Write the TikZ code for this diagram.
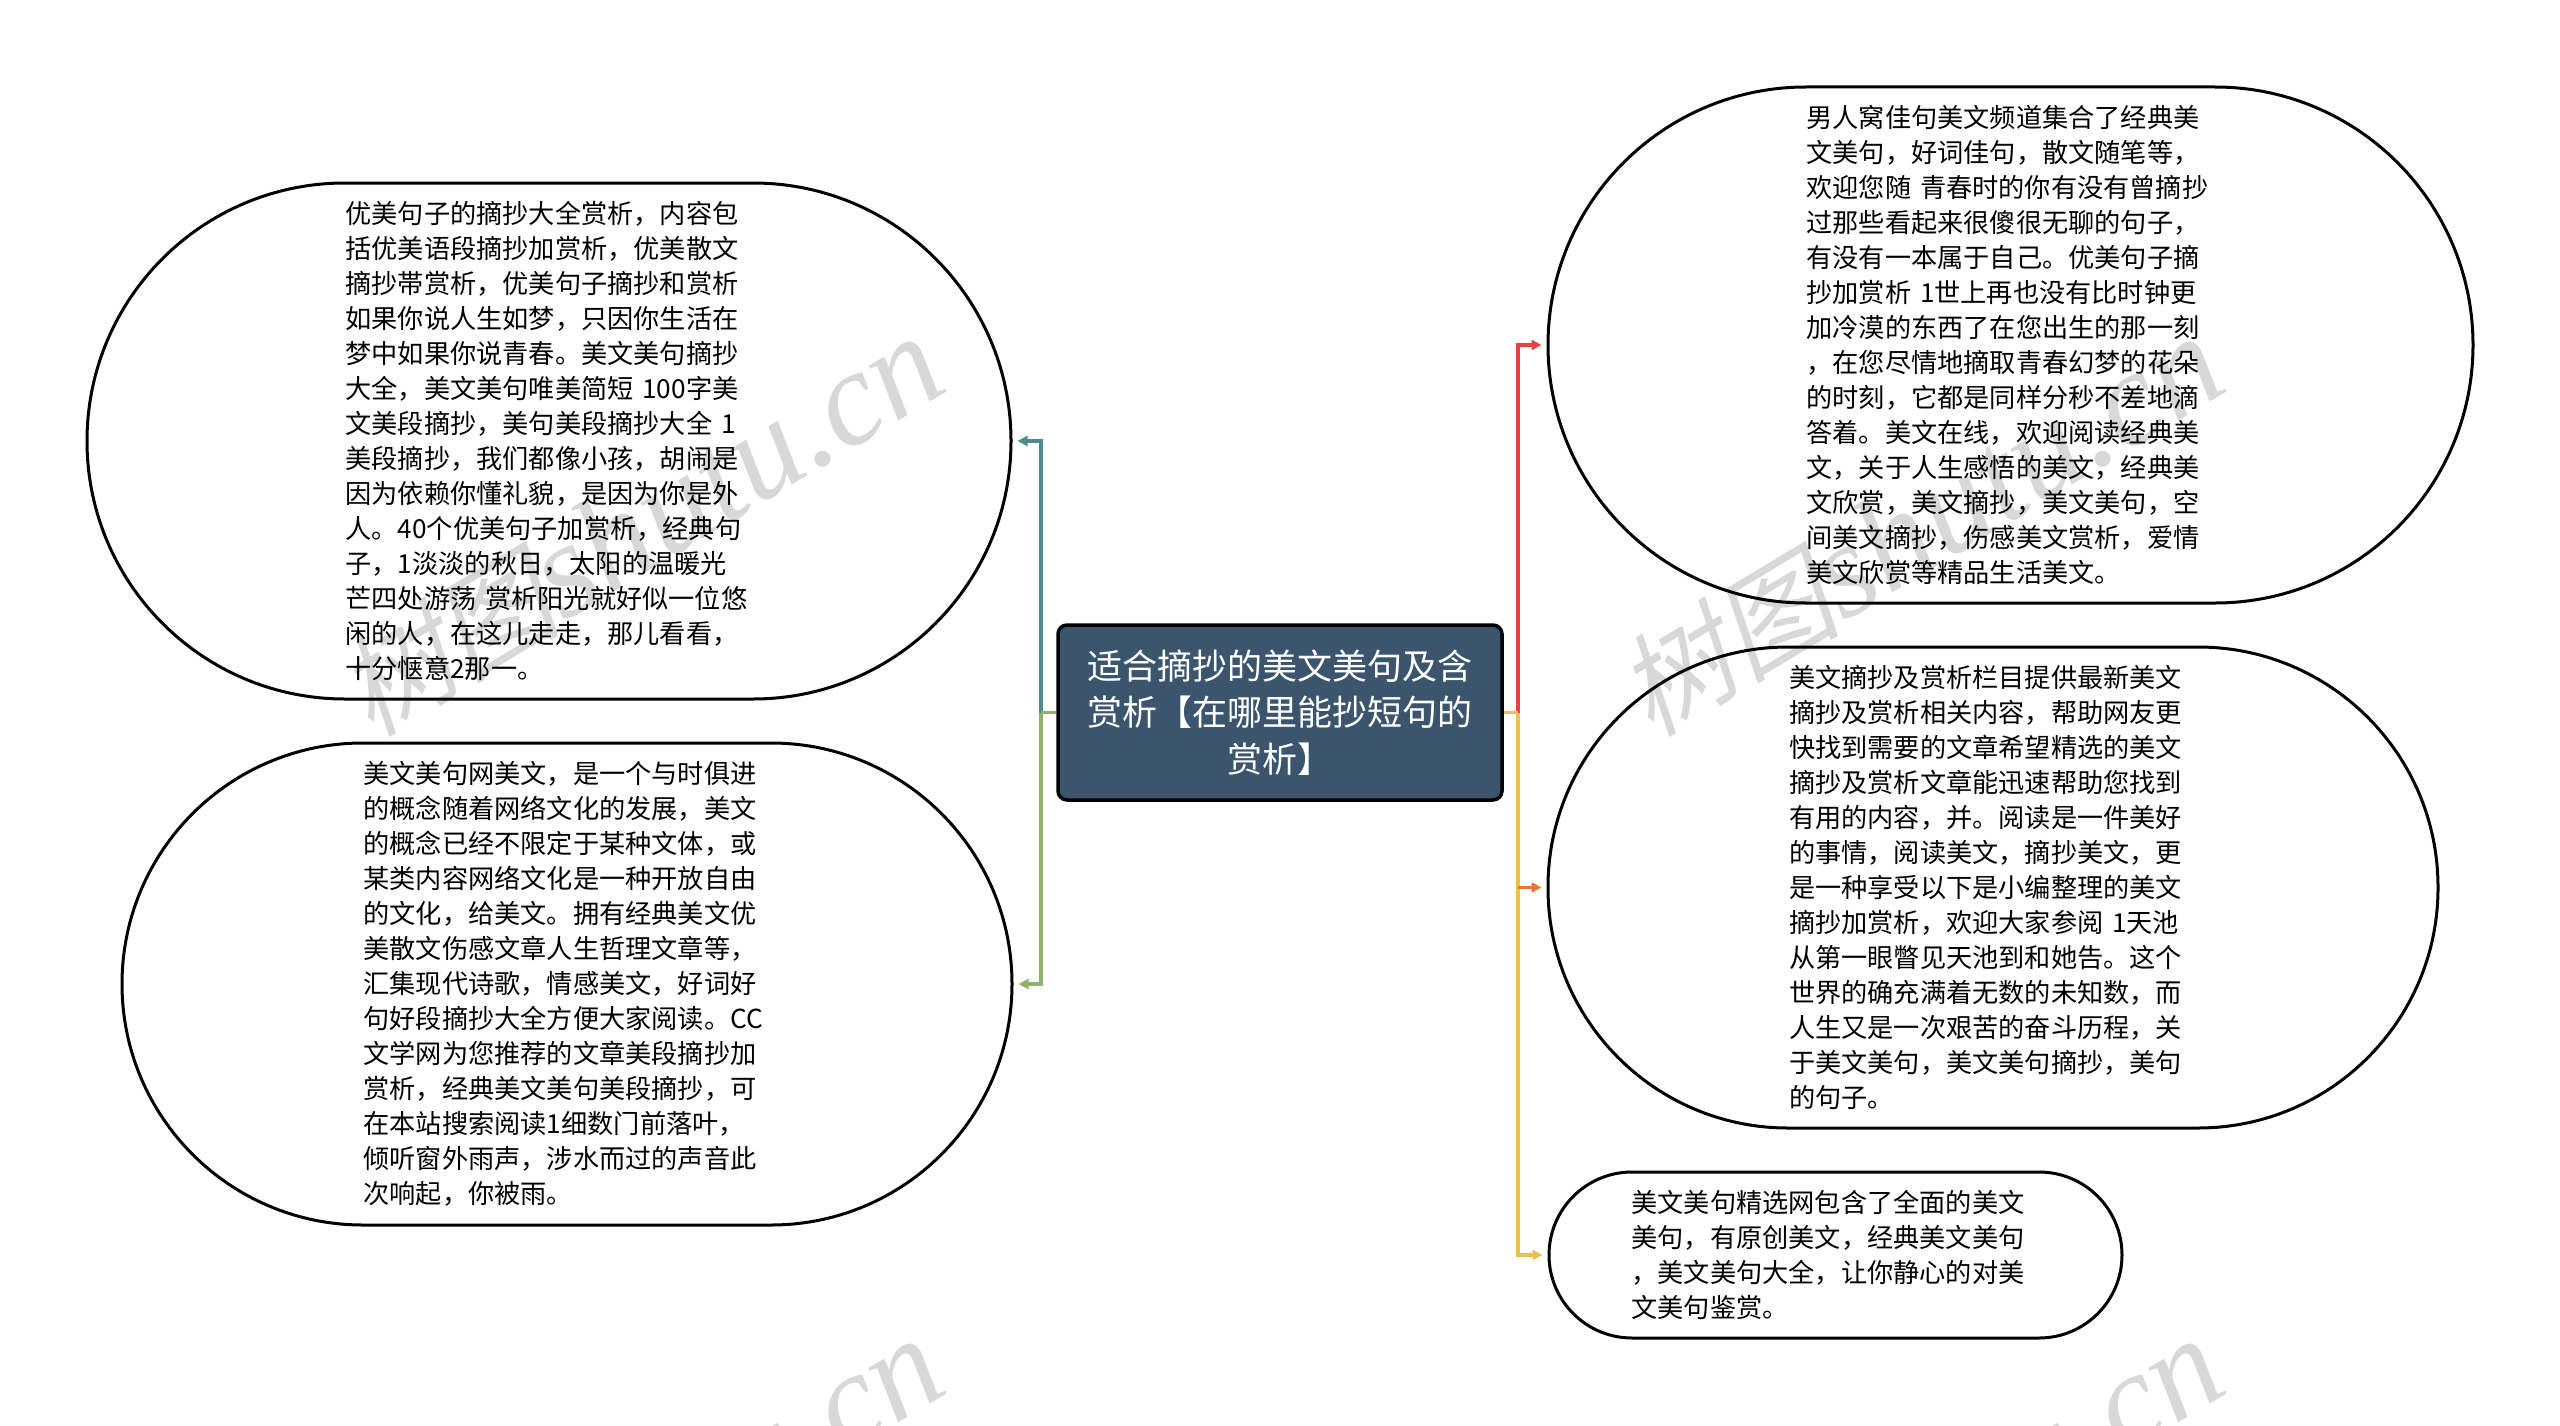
\documentclass[tikz,border=0pt]{standalone}
\usepackage{fontspec}
\setmainfont{Noto Sans CJK SC}
\newfontfamily\wmlatin{Liberation Serif}
\newfontfamily\wmcjk[FakeSlant=0.22]{Noto Sans CJK SC}
\usetikzlibrary{arrows.meta}
\definecolor{darkblue}{HTML}{3B556F}
\definecolor{cteal}{HTML}{4C8C8C}
\definecolor{cgreen}{HTML}{8DB36B}
\definecolor{cred}{HTML}{E04444}
\definecolor{cyellow}{HTML}{EDBE53}
\definecolor{corange}{HTML}{E8763A}
\definecolor{wm}{HTML}{D8D8D8}
\newcommand{\wmtext}{{\wmcjk\fontsize{112pt}{112pt}\selectfont 树图}{\wmlatin\itshape\fontsize{135pt}{135pt}\selectfont shutu.cn}}
\tikzset{
  x=1pt,y=-1pt,
  blob/.style={draw=black,line width=3pt,align=left,inner sep=0pt,font=\fontsize{26.2pt}{35pt}\selectfont,text=black},
  rootbox/.style={draw=black,fill=darkblue,line width=3.5pt,rounded corners=9pt,align=center,inner sep=0pt,minimum width=444pt,minimum height=175pt,text width=400pt,text=white,font=\fontsize{35pt}{46.7pt}\selectfont},
  link/.style={line width=3.4pt},
  arr/.style={link,shorten >=5pt,-{Triangle[length=10pt,width=10pt]}},
  wmark/.style={text=wm,inner sep=0pt,rotate=31}
}
\begin{document}
\begin{tikzpicture}
\useasboundingbox (0,0) rectangle (2560,1426);
\begin{scope}
\clip (0,0) rectangle (2560,1426);
\node[wmark] (w1) at (640,527) {\wmtext};
\node[wmark] (w2) at (1920,527) {\wmtext};
\node[wmark] (w3) at (640,1529) {\wmtext};
\node[wmark] (w4) at (1920,1529) {\wmtext};
\end{scope}

\node[rootbox] (root) at (1280,712.5) {适合摘抄的美文美句及含\\赏析【在哪里能抄短句的\\赏析】};

\node[blob,minimum width=924pt,minimum height=516pt,rounded corners=258pt,text width=407pt] (a) at (549,441) {优美句子的摘抄大全赏析，内容包\\括优美语段摘抄加赏析，优美散文\\摘抄帯赏析，优美句子摘抄和赏析\\如果你说人生如梦，只因你生活在\\梦中如果你说青春。美文美句摘抄\\大全，美文美句唯美简短 100字美\\文美段摘抄，美句美段摘抄大全 1\\美段摘抄，我们都像小孩，胡闹是\\因为依赖你懂礼貌，是因为你是外\\人。40个优美句子加赏析，经典句\\子，1淡淡的秋日，太阳的温暖光\\芒四处游荡 赏析阳光就好似一位悠\\闲的人，在这儿走走，那儿看看，\\十分惬意2那一。};

\node[blob,minimum width=890pt,minimum height=482pt,rounded corners=241pt,text width=407pt] (b) at (567,984) {美文美句网美文，是一个与时俱进\\的概念随着网络文化的发展，美文\\的概念已经不限定于某种文体，或\\某类内容网络文化是一种开放自由\\的文化，给美文。拥有经典美文优\\美散文伤感文章人生哲理文章等，\\汇集现代诗歌，情感美文，好词好\\句好段摘抄大全方便大家阅读。CC\\文学网为您推荐的文章美段摘抄加\\赏析，经典美文美句美段摘抄，可\\在本站搜索阅读1细数门前落叶，\\倾听窗外雨声，涉水而过的声音此\\次响起，你被雨。};

\node[blob,minimum width=925pt,minimum height=516pt,rounded corners=258pt,text width=408pt] (c) at (2010.5,345) {男人窝佳句美文频道集合了经典美\\文美句，好词佳句，散文随笔等，\\欢迎您随 青春时的你有没有曾摘抄\\过那些看起来很傻很无聊的句子，\\有没有一本属于自己。优美句子摘\\抄加赏析 1世上再也没有比时钟更\\加冷漠的东西了在您出生的那一刻\\，在您尽情地摘取青春幻梦的花朵\\的时刻，它都是同样分秒不差地滴\\答着。美文在线，欢迎阅读经典美\\文，关于人生感悟的美文，经典美\\文欣赏，美文摘抄，美文美句，空\\间美文摘抄，伤感美文赏析，爱情\\美文欣赏等精品生活美文。};

\node[blob,minimum width=890pt,minimum height=481pt,rounded corners=240pt,text width=408pt] (d) at (1993,887.5) {美文摘抄及赏析栏目提供最新美文\\摘抄及赏析相关内容，帮助网友更\\快找到需要的文章希望精选的美文\\摘抄及赏析文章能迅速帮助您找到\\有用的内容，并。阅读是一件美好\\的事情，阅读美文，摘抄美文，更\\是一种享受以下是小编整理的美文\\摘抄加赏析，欢迎大家参阅 1天池\\从第一眼瞥见天池到和她告。这个\\世界的确充满着无数的未知数，而\\人生又是一次艰苦的奋斗历程，关\\于美文美句，美文美句摘抄，美句\\的句子。};

\node[blob,minimum width=573pt,minimum height=166pt,rounded corners=83pt,text width=408pt] (e) at (1835.5,1255) {美文美句精选网包含了全面的美文\\美句，有原创美文，经典美文美句\\，美文美句大全，让你静心的对美\\文美句鉴赏。};

\coordinate (ljoint) at (1041,712.5);
\coordinate (rjoint) at (1518,712.5);
\draw[arr,cteal] (ljoint) |- (a.east);
\draw[arr,cgreen] (ljoint) |- (b.east);
\draw[link,cgreen] (root.west) -- (ljoint);
\draw[arr,cred] (rjoint) |- (c.west);
\draw[arr,cyellow] (rjoint) |- (e.west);
\draw[arr,corange] (rjoint |- d.west) -- (d.west);
\draw[link,cyellow] (root.east) -- (rjoint);
\end{tikzpicture}
\end{document}
